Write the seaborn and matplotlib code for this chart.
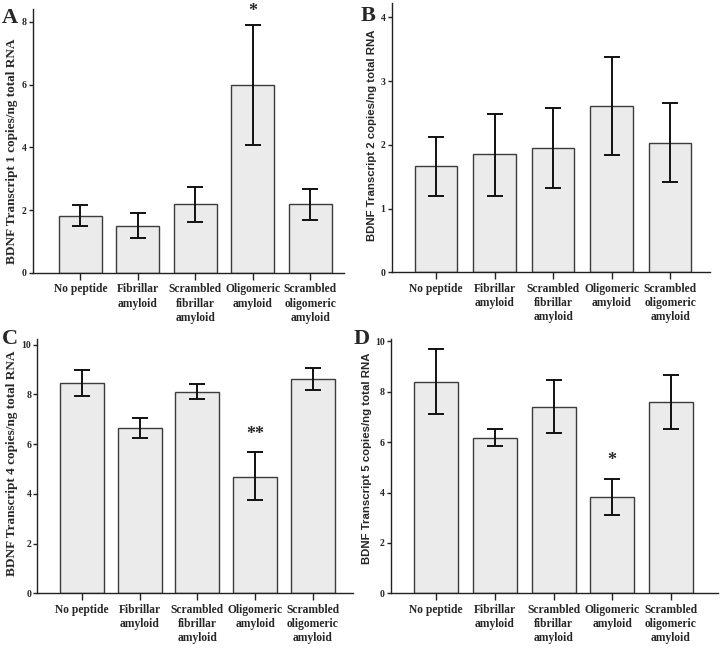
import numpy as np
import pandas as pd
import matplotlib
matplotlib.use("Agg")
import matplotlib.pyplot as plt
import seaborn as sns


GROUPS = ["No peptide", "Fibrillar\namyloid", "Scrambled\nfibrillar\namyloid",
          "Oligomeric\namyloid", "Scrambled\noligomeric\namyloid"]

# Transcript 1 (panel A)
t1_mean = [1.82, 1.49, 2.19, 5.97, 2.19]
t1_low = [1.49, 1.10, 1.63, 4.08, 1.68]
t1_high = [2.17, 1.90, 2.75, 7.88, 2.67]

# Transcript 2 (panel B)
t2_mean = [1.66, 1.85, 1.95, 2.61, 2.03]
t2_low = [1.19, 1.19, 1.33, 1.84, 1.41]
t2_high = [2.13, 2.48, 2.57, 3.38, 2.65]

# Transcript 4 (panel C)
t4_mean = [8.47, 6.64, 8.10, 4.69, 8.63]
t4_low = [7.94, 6.24, 7.80, 3.74, 8.19]
t4_high = [9.00, 7.05, 8.41, 5.67, 9.08]

# Transcript 5 (panel D)
t5_mean = [8.38, 6.18, 7.40, 3.82, 7.58]
t5_low = [7.13, 5.84, 6.36, 3.11, 6.51]
t5_high = [9.67, 6.53, 8.45, 4.53, 8.64]

# significance marks: (group index, y value, text)
t1_sig = (3, 8.05, "*")
t4_sig = (3, 6.05, "**")
t5_sig = (3, 4.95, "*")

BAR_FACE = "#ebebeb"
BAR_EDGE = "#3c3c3c"
SERIF = ["Liberation Serif", "DejaVu Serif"]
SANS = ["Liberation Sans", "DejaVu Sans"]

sns.set_style("ticks")
plt.rcParams["font.family"] = SERIF


def panel(fig, rect, mean, low, high, ylab, lab_family, lab_size, lab_xy,
          ymax, yticks, xlim, letter, letter_xy, sig=None, width=0.75):
    ax = fig.add_axes(rect)
    df = pd.DataFrame({"group": GROUPS, "value": mean})
    sns.barplot(data=df, x="group", y="value", ax=ax, color=BAR_FACE,
                edgecolor=BAR_EDGE, linewidth=1.0, width=width,
                errorbar=None, saturation=1)
    x = np.arange(len(mean))
    m = np.array(mean)
    yerr = np.vstack([m - np.array(low), np.array(high) - m])
    ax.errorbar(x, m, yerr=yerr, fmt="none", ecolor="#111111",
                elinewidth=1.4, capsize=5.5, capthick=1.4)
    if sig is not None:
        i, y, txt = sig
        ax.text(i, y, txt, ha="center", va="bottom", fontsize=13,
                fontweight="bold", family=SERIF)

    ax.set_xlim(*xlim)
    ax.set_ylim(0, ymax)
    ax.set_yticks(yticks)
    ax.set_xlabel("")
    ax.set_ylabel(ylab, family=lab_family, fontsize=lab_size,
                  fontweight="bold")
    ax.yaxis.set_label_coords(*lab_xy)
    sns.despine(ax=ax)
    for s in ["left", "bottom"]:
        ax.spines[s].set_color("#222222")
        ax.spines[s].set_linewidth(1.0)
    ax.tick_params(axis="y", length=3, width=1, pad=1.5, labelsize=7,
                   color="#222222")
    ax.tick_params(axis="x", length=5, width=1, pad=2.5, labelsize=8.3,
                   color="#222222")
    for t in ax.get_yticklabels():
        t.set_fontweight("bold")
    for t in ax.get_xticklabels():
        t.set_fontweight("bold")
        t.set_linespacing(1.25)
        t.set_va("top")
    fig.text(letter_xy[0], letter_xy[1], letter, fontsize=16,
             fontweight="bold", family=SERIF, ha="left", va="baseline")
    return ax


fig = plt.figure(figsize=(7.2, 6.5), dpi=100)

panel(fig, [0.046, 0.580, 0.432, 0.406], t1_mean, t1_low, t1_high,
      "BDNF Transcript 1 copies/ng total RNA", SERIF, 9.5, (-0.048, 0.46),
      8.4, [0, 2, 4, 6, 8], (-0.82, 4.59), "A", (0.003, 0.965), t1_sig)

panel(fig, [0.544, 0.581, 0.442, 0.414], t2_mean, t2_low, t2_high,
      "BDNF Transcript 2 copies/ng total RNA", SANS, 8.2, (-0.046, 0.51),
      4.22, [0, 1, 2, 3, 4], (-0.76, 4.68), "B", (0.501, 0.967),
      width=0.73)

panel(fig, [0.052, 0.087, 0.438, 0.392], t4_mean, t4_low, t4_high,
      "BDNF Transcript 4 copies/ng total RNA", SERIF, 9.5, (-0.061, 0.511),
      10.24, [0, 2, 4, 6, 8, 10], (-0.77, 4.69), "C", (0.003, 0.471),
      t4_sig, width=0.76)

panel(fig, [0.543, 0.087, 0.454, 0.392], t5_mean, t5_low, t5_high,
      "BDNF Transcript 5 copies/ng total RNA", SANS, 8.2, (-0.058, 0.53),
      10.1, [0, 2, 4, 6, 8, 10], (-0.77, 4.8), "D", (0.491, 0.471),
      t5_sig)

fig.savefig("out.png", dpi=100)
